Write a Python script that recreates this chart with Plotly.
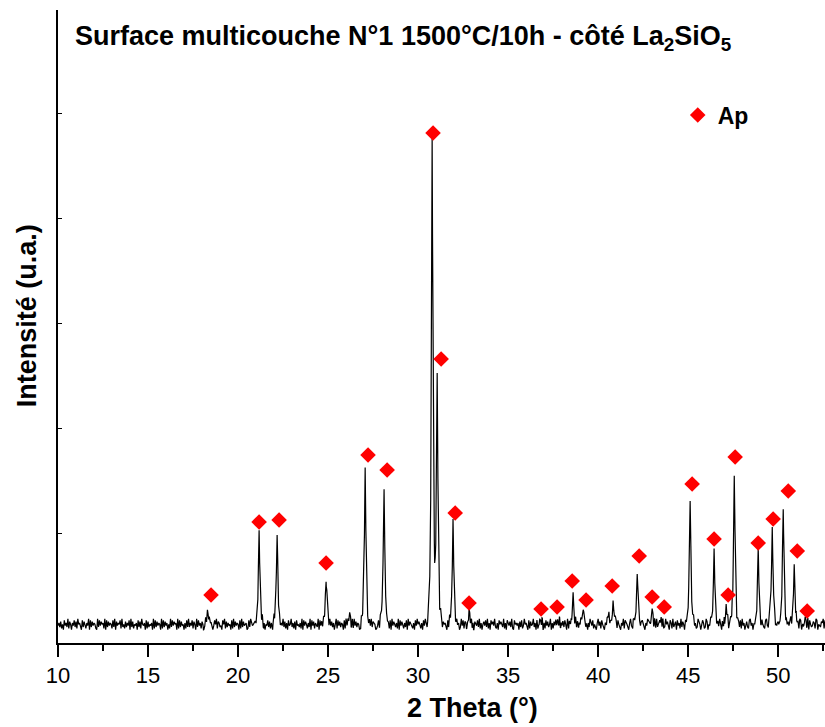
import numpy as np
import plotly.graph_objects as go

bruit = (
    "4637251846392751648372956418375264918374652193847562918374652839174658293"
    "5273648193725461837295461827354619283746519283746152938475619283745162839"
    "3648275193846275139482756314859276341859273645182937465182937456128397456"
    "6251847392615483726159483726154937261845936271845362918475263918472653918"
    "4728361952847361592847365182947356182947365128493765218493765124839756213"
    "5362819475362918475263819475326184957326184953762819473562819437562183947"
    "3948275613948276153948261754839261574839261857493261857439261854739218564"
    "6173824956318274593618247539162847359162748351926473851927463851927364851"
    "4825163974825316947285316497825314697285316492875316942875136942785316497"
    "5374618293574618239574186293571846293751846293715846239751486239715486237"
    "3826495173826491573824961573829461573289461537289461753289416753289146753"
    "6492815374692815374629815347629185347629815437692815437629185437692158437"
    "4715392864715392846175392846713592846173592864173592846175392846175392864"
)

# Pics de diffraction : position 2θ (°) et hauteur au-dessus du fond (u.a.)
pics_2theta = [18.33, 21.17, 22.17, 24.89, 26.20, 27.06, 28.11, 30.78, 31.06,
               31.94, 32.83, 36.80, 37.78, 38.61, 39.17, 40.60, 40.83, 42.17,
               43.00, 43.50, 45.11, 46.44, 47.11, 47.56, 48.89, 49.67, 50.28,
               50.89, 51.50]
pics_hauteur = [15, 90, 92, 48, 12, 154, 139, 482, 250,
                100, 10, 4, 7, 28, 20, 8, 25, 53,
                17, 6, 126, 73, 19, 150, 71, 100, 119,
                60, 5]

# Repères de la phase Ap
ap_2theta = [18.50, 21.17, 22.28, 24.89, 27.22, 28.28, 30.83, 31.28, 32.06,
             32.83, 36.83, 37.72, 38.56, 39.33, 40.78, 42.28, 43.00, 43.67,
             45.22, 46.44, 47.22, 47.61, 48.89, 49.72, 50.56, 51.06, 51.61]
ap_intensite = [48, 121, 123, 80, 188, 173, 510, 284, 130,
                40, 34, 36, 62, 43, 57, 87, 46, 36,
                159, 104, 48, 186, 100, 124, 152, 92, 32]

fond = 18
pas = 0.05

# Profil des pics (écart en ° et fraction de la hauteur)
profil_dx = [-0.25, -0.14, -0.08, -0.04, 0, 0.04, 0.08, 0.14, 0.25]
profil_f = [0, 0.08, 0.25, 0.6, 1, 0.6, 0.25, 0.08, 0]

x_grille = 10 + pas * np.arange(len(bruit))
y_grille = fond + (np.array([int(c) for c in bruit]) - 4.5) * 1.35

x_pics = [p + d for p in pics_2theta for d in profil_dx]
x = np.union1d(x_grille, x_pics)
idx = np.clip(np.round((x - 10) / pas).astype(int), 0, len(bruit) - 1)
y = y_grille[idx]
for p, h in zip(pics_2theta, pics_hauteur):
    y = y + h * np.interp(x - p, profil_dx, profil_f)

police = "Liberation Sans, Arial, sans-serif"

fig = go.Figure()

fig.add_trace(
    go.Scatter(
        x=x,
        y=y,
        mode="lines",
        line=dict(color="#000000", width=1.2),
        showlegend=False,
        hoverinfo="skip",
    )
)

fig.add_trace(
    go.Scatter(
        x=ap_2theta,
        y=ap_intensite,
        mode="markers",
        marker=dict(symbol="diamond", size=12, color="#FF0000"),
        name="<b>Ap</b>",
    )
)

fig.update_xaxes(
    range=[10, 52.6],
    automargin=False,
    showline=True,
    linecolor="#000000",
    linewidth=1.5,
    ticks="outside",
    ticklen=12,
    tickwidth=1.5,
    tickcolor="#000000",
    tick0=10,
    dtick=5,
    minor=dict(ticks="outside", ticklen=6, tickwidth=1.5, tickcolor="#000000", dtick=2.5),
    showgrid=False,
    zeroline=False,
    tickfont=dict(family=police, size=22, color="#000000"),
)

fig.update_yaxes(
    range=[0, 633],
    automargin=False,
    showline=True,
    linecolor="#000000",
    linewidth=1.5,
    ticks="inside",
    ticklen=4,
    tickwidth=1,
    tickcolor="#000000",
    tickvals=[110, 215, 320, 425, 530],
    showticklabels=False,
    showgrid=False,
    zeroline=False,
)

fig.update_layout(
    width=825,
    height=727,
    margin=dict(l=58, r=0, t=10, b=84),
    paper_bgcolor="#FFFFFF",
    plot_bgcolor="#FFFFFF",
    font=dict(family=police, color="#000000"),
    showlegend=True,
    legend=dict(
        x=0.808,
        y=0.868,
        xanchor="left",
        yanchor="top",
        bgcolor="rgba(0,0,0,0)",
        font=dict(family=police, size=23, color="#000000"),
    ),
    annotations=[
        dict(
            xref="paper",
            yref="paper",
            x=0.0196,
            y=0.955,
            xanchor="left",
            yanchor="middle",
            text="<b>Surface multicouche N°1 1500°C/10h - côté La<sub>2</sub>SiO<sub>5</sub></b>",
            showarrow=False,
            font=dict(family=police, size=27),
        ),
        dict(
            xref="paper",
            yref="paper",
            x=-0.041,
            y=0.517,
            xanchor="center",
            yanchor="middle",
            textangle=-90,
            text="<b>Intensité (u.a.)</b>",
            showarrow=False,
            font=dict(family=police, size=27),
        ),
        dict(
            xref="paper",
            yref="paper",
            x=0.54,
            y=-0.103,
            xanchor="center",
            yanchor="middle",
            text="<b>2 Theta (°)</b>",
            showarrow=False,
            font=dict(family=police, size=27),
        ),
    ],
)

# La page ne doit pas ajouter de marge autour du graphique
fig.write_html(
    "out.html",
    config={"displayModeBar": False},
    post_script="document.body.style.margin='0';",
)
